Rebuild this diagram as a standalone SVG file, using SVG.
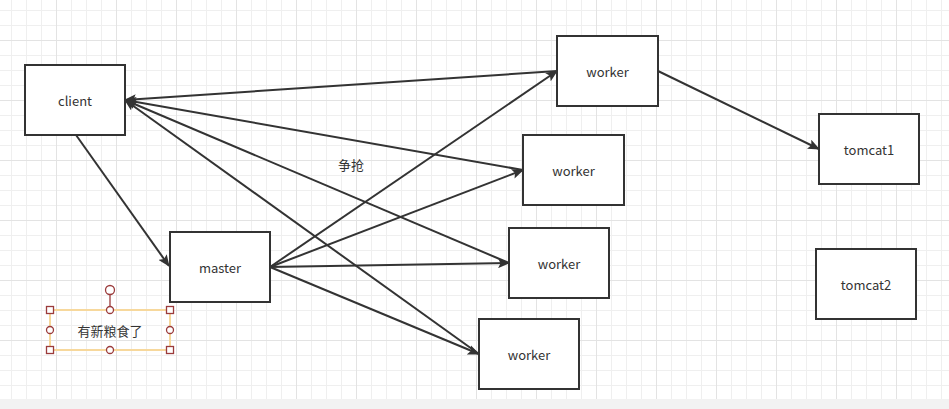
<svg xmlns="http://www.w3.org/2000/svg" width="949" height="409" viewBox="0 0 949 409">
<defs>
<pattern id="grid" x="-4" y="-20" width="60" height="60" patternUnits="userSpaceOnUse">
<rect x="0" y="0" width="60" height="60" fill="#ffffff"/>
<g fill="#efefef">
<rect x="15" y="0" width="1" height="60"/>
<rect x="30" y="0" width="1" height="60"/>
<rect x="45" y="0" width="1" height="60"/>
<rect x="0" y="15" width="60" height="1"/>
<rect x="0" y="30" width="60" height="1"/>
<rect x="0" y="45" width="60" height="1"/>
</g>
<g fill="#e3e3e3">
<rect x="0" y="0" width="1" height="60"/>
<rect x="0" y="0" width="60" height="1"/>
</g>
</pattern>
<marker id="arr" viewBox="0 0 12 10" refX="11" refY="5" markerWidth="12" markerHeight="10" markerUnits="userSpaceOnUse" orient="auto">
<path d="M0,0 L12,5 L0,10 L2.5,5 z" fill="#333333"/>
</marker>
<style>
.box{fill:#ffffff;stroke:#333333;stroke-width:2}
.lbl{font-family:"Noto Sans CJK SC","Noto Sans",sans-serif;font-size:13px;fill:#333333;text-anchor:middle;dominant-baseline:central}
.edge{fill:none;stroke:#333333;stroke-width:2}
.h{fill:#ffffff;stroke:#9b3b3b;stroke-width:1.3}
</style>
</defs>
<rect x="0" y="0" width="949" height="399" fill="url(#grid)"/>
<rect x="0" y="399" width="949" height="10" fill="#f2f2f2"/>

<g id="connectors">
<line class="edge" x1="76" y1="135" x2="169" y2="266" marker-end="url(#arr)"/>
<line class="edge" x1="270" y1="267" x2="557" y2="71" marker-end="url(#arr)"/>
<line class="edge" x1="270" y1="267" x2="523" y2="170" marker-end="url(#arr)"/>
<line class="edge" x1="270" y1="267" x2="509" y2="263" marker-end="url(#arr)"/>
<line class="edge" x1="270" y1="267" x2="479" y2="354" marker-end="url(#arr)"/>
<line class="edge" x1="557" y1="71" x2="125" y2="100" marker-end="url(#arr)"/>
<line class="edge" x1="523" y1="170" x2="125" y2="100" marker-end="url(#arr)"/>
<line class="edge" x1="509" y1="263" x2="125" y2="100" marker-end="url(#arr)"/>
<line class="edge" x1="479" y1="354" x2="125" y2="100" marker-end="url(#arr)"/>
<line class="edge" x1="658" y1="71" x2="819" y2="149" marker-end="url(#arr)"/>
</g>

<g id="client"><rect class="box" x="25" y="65" width="100" height="70"/><text class="lbl" x="75" y="100">client</text></g>
<g id="master"><rect class="box" x="170" y="232" width="100" height="70"/><text class="lbl" x="220" y="267">master</text></g>
<g id="worker1"><rect class="box" x="557" y="36" width="101" height="70"/><text class="lbl" x="607.5" y="71">worker</text></g>
<g id="worker2"><rect class="box" x="523" y="135" width="101" height="70"/><text class="lbl" x="573.5" y="170">worker</text></g>
<g id="worker3"><rect class="box" x="509" y="228" width="100" height="70"/><text class="lbl" x="559" y="263">worker</text></g>
<g id="worker4"><rect class="box" x="479" y="319" width="100" height="70"/><text class="lbl" x="529" y="354">worker</text></g>
<g id="tomcat1"><rect class="box" x="819" y="114" width="100" height="70"/><text class="lbl" x="869" y="149">tomcat1</text></g>
<g id="tomcat2"><rect class="box" x="816" y="249" width="100" height="70"/><text class="lbl" x="866" y="284">tomcat2</text></g>

<g id="label-zhengqiang"><text class="lbl" x="351" y="164">争抢</text></g>

<g id="note">
<rect x="50" y="310" width="120" height="40" fill="none" stroke="#f7d89c" stroke-width="2"/>
<text class="lbl" x="110" y="330">有新粮食了</text>
<line x1="110" y1="294.5" x2="110" y2="306.5" stroke="#9b3b3b" stroke-width="1.3"/>
<circle class="h" cx="110" cy="290" r="4.5"/>
<rect class="h" x="46.5" y="306.5" width="7" height="7"/>
<rect class="h" x="166.5" y="306.5" width="7" height="7"/>
<rect class="h" x="46.5" y="346.5" width="7" height="7"/>
<rect class="h" x="166.5" y="346.5" width="7" height="7"/>
<circle class="h" cx="110" cy="310" r="3.5"/>
<circle class="h" cx="110" cy="350" r="3.5"/>
<circle class="h" cx="50" cy="330" r="3.5"/>
<circle class="h" cx="170" cy="330" r="3.5"/>
</g>
</svg>
